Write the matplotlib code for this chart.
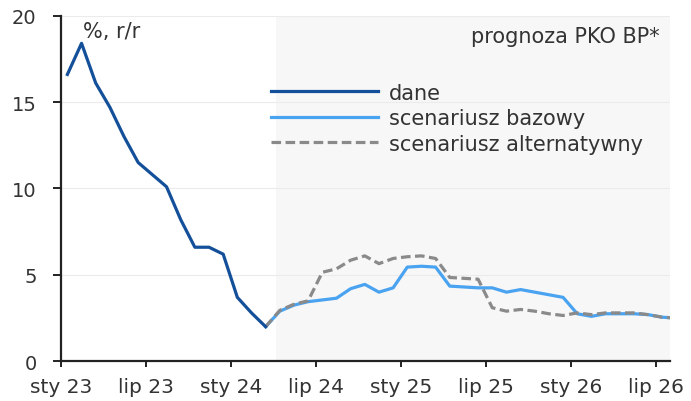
import numpy as np
import matplotlib
matplotlib.use("Agg")
import matplotlib.pyplot as plt

# data: CPI y/y, monthly from Jan 2023 (index 0)
dane = [16.6, 18.4, 16.1, 14.7, 13.0, 11.5, 10.8, 10.1, 8.2, 6.6, 6.6, 6.2,
        3.7, 2.8, 2.0]
# forecasts start at Mar 2024 (index 14) and run to Aug 2026
fc_start = 14
bazowy = [2.0, 2.9, 3.25, 3.45, 3.55, 3.65, 4.2, 4.45, 4.0, 4.25, 5.45, 5.5,
          5.45, 4.35, 4.3, 4.25, 4.25, 4.0, 4.15, 4.0, 3.85, 3.7, 2.75, 2.6,
          2.75, 2.75, 2.75, 2.7, 2.55, 2.5]
alternatywny = [2.0, 2.95, 3.3, 3.5, 5.15, 5.35, 5.85, 6.1, 5.65, 5.95, 6.05,
                6.1, 5.95, 4.85, 4.8, 4.75, 3.1, 2.9, 3.0, 2.9, 2.75, 2.65,
                2.8, 2.7, 2.8, 2.8, 2.8, 2.7, 2.55, 2.5]
tick_pos = [0, 6, 12, 18, 24, 30, 36, 42]
tick_labels = ["sty 23", "lip 23", "sty 24", "lip 24", "sty 25", "lip 25",
               "sty 26", "lip 26"]

txt = "#333333"
plt.rcParams["font.family"] = ["DejaVu Sans"]
plt.rcParams["font.size"] = 14

fig = plt.figure(figsize=(6.91, 4.02), dpi=100)
ax = fig.add_axes([0.0883, 0.0988, 0.8813, 0.8597])

off = 0.45  # points sit in the middle of the month
x_dane = np.arange(len(dane)) + off
x_fc = np.arange(len(bazowy)) + fc_start + off

# forecast area
ax.axvspan(15.15, 43, color="#f7f7f7", zorder=0, lw=0)
ax.set_yticks([0, 5, 10, 15, 20])
ax.grid(axis="y", color="#ebebeb", lw=0.8, zorder=0.5)

l1, = ax.plot(x_dane, dane, color="#14509a", lw=2.3, zorder=4,
              solid_joinstyle="round", label="dane")
l2, = ax.plot(x_fc, bazowy, color="#4aa3f0", lw=2.3, zorder=2,
              solid_joinstyle="round", label="scenariusz bazowy")
l3, = ax.plot(x_fc, alternatywny, color="#8a8a8a", lw=2.3, zorder=3,
              dashes=(3, 1.4), label="scenariusz alternatywny")

ax.set_xlim(0, 43)
ax.set_ylim(0, 20)
ax.set_xticks(tick_pos)
ax.set_xticklabels(tick_labels, fontsize=14.5)

for s in ["top", "right"]:
    ax.spines[s].set_visible(False)
for s in ["left", "bottom"]:
    ax.spines[s].set_linewidth(1.6)
    ax.spines[s].set_color("#222222")
ax.tick_params(axis="y", length=5.5, width=1.4, color="#222222",
               labelcolor=txt, pad=12)
ax.tick_params(axis="x", length=4, width=1.4, color="#222222",
               labelcolor=txt, pad=7)

ax.text(1.55, 19.7, "%, r/r", color=txt, fontsize=15, ha="left", va="top")
ax.text(42.3, 18.8, "prognoza PKO BP*", color=txt, fontsize=15,
        ha="right", va="center")

ax.legend(handles=[l1, l2, l3], loc="upper left", bbox_to_anchor=(0.345, 0.806),
          frameon=False, handlelength=5.14, handletextpad=0.51,
          labelspacing=0.26, borderpad=0, borderaxespad=0, fontsize=15,
          labelcolor=txt)

fig.savefig("out.png", dpi=100)
